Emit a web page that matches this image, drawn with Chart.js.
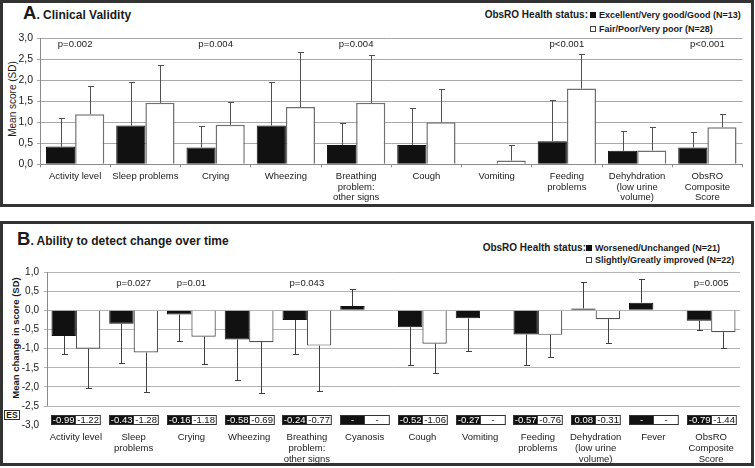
<!DOCTYPE html>
<html><head><meta charset="utf-8">
<script src="https://cdn.jsdelivr.net/npm/chart.js@4.4.1/dist/chart.umd.min.js"></script>
<style>
html,body{margin:0;padding:0;background:#fff;}
body{width:755px;height:468px;position:relative;overflow:hidden;font-family:"Liberation Sans",Arial,sans-serif;color:#1a1a1a;}
.panel{position:absolute;left:0;width:754px;box-sizing:border-box;border:3px solid #333;}
canvas{position:absolute;left:0;}
.t{position:absolute;white-space:nowrap;font-weight:bold;}
.rot{position:absolute;white-space:nowrap;transform:translate(-50%,-50%) rotate(-90deg);}
.sq{display:inline-block;width:6px;height:6px;margin-right:3px;vertical-align:0px;box-sizing:border-box;}
.sqb{background:#111;border:1px solid #111;}
.sqw{background:#fff;border:1px solid #444;}
</style></head>
<body>
<div class="panel" style="top:0;height:207px;"></div>
<div class="panel" style="top:221px;height:245px;"></div>

<div class="t" style="left:23px;top:4px;line-height:18px;"><span style="font-size:18.5px;">A</span><span style="font-size:12px;">. Clinical Validity</span></div>
<div class="t" style="left:17px;top:230px;line-height:18px;"><span style="font-size:18.5px;">B</span><span style="font-size:12px;">. Ability to detect change over time</span></div>

<div class="t" id="legA1" style="right:167px;top:8px;font-size:10px;line-height:14px;">ObsRO Health status:</div>
<div class="t" id="legA" style="left:590px;top:8px;font-size:9px;line-height:14px;"></div>
<div class="t" id="legB1" style="right:169px;top:241.5px;font-size:10px;line-height:12.4px;">ObsRO Health status:</div>
<div class="t" id="legB" style="left:586px;top:241.5px;font-size:9px;line-height:12.4px;"></div>

<div class="rot" style="left:11.5px;top:98.5px;font-size:10px;">Mean score (SD)</div>
<div class="rot" style="left:15px;top:337.5px;font-size:9.5px;font-weight:bold;">Mean change in score (SD)</div>

<div class="t" style="left:4px;top:410px;width:16px;height:10px;box-sizing:border-box;border:1px solid #333;background:#fff;font-size:8.5px;line-height:8px;text-align:center;">ES</div>

<canvas id="cA" width="755" height="207" style="top:0;"></canvas>
<canvas id="cB" width="755" height="245" style="top:221px;"></canvas>

<script>
// ---------- Panel A data ----------
const categoriesA = ['Activity level','Sleep problems','Crying','Wheezing',['Breathing','problem:','other signs'],'Cough','Vomiting',['Feeding','problems'],['Dehyhdration','(low urine','volume)'],['ObsRO','Composite','Score']];
const seriesNamesA = ['Excellent/Very good/Good (N=13)','Fair/Poor/Very poor (N=28)'];
const goodMeanA = [0.42,0.92,0.40,0.92,0.46,0.46,null,0.55,0.32,0.40];
const goodSdA   = [0.67,1.04,0.50,1.04,0.52,0.88,null,0.97,0.47,0.36];
const poorMeanA = [1.19,1.46,0.94,1.36,1.46,1.00,0.09,1.80,0.33,0.88];
const poorSdA   = [0.68,0.90,0.53,1.31,1.14,0.78,0.36,0.82,0.55,0.31];
const pValuesA  = ['p=0.002','','p=0.004','','p=0.004','','','p<0.001','','p<0.001'];
const yTicksA   = {min:0, max:3, step:0.5};

// ---------- Panel B data ----------
const categoriesB = ['Activity level',['Sleep','problems'],'Crying','Wheezing',['Breathing','problem:','other signs'],'Cyanosis','Cough','Vomiting',['Feeding','problems'],['Dehydration','(low urine','volume)'],'Fever',['ObsRO','Composite','Score']];
const seriesNamesB = ['Worsened/Unchanged (N=21)','Slightly/Greatly improved (N=22)'];
const worseMeanB  = [-0.67,-0.35,-0.11,-0.76,-0.25,0.11,-0.44,-0.21,-0.63,0.05,0.20,-0.27];
const worseSdB    = [0.48,1.02,0.69,1.05,0.89,0.44,0.98,0.86,0.80,0.68,0.61,0.24];
const betterMeanB = [-1.00,-1.10,-0.69,-0.83,-0.92,null,-0.87,null,-0.64,-0.23,null,-0.57];
const betterSdB   = [1.03,1.03,0.72,1.34,1.19,null,0.77,null,0.59,0.61,null,0.40];
const pValuesB    = ['','p=0.027','p=0.01','','p=0.043','','','','','','','p=0.005'];
const esWorseB    = ['-0.99','-0.43','-0.16','-0.58','-0.24','-','-0.52','-0.27','-0.57','0.08','-','-0.79'];
const esBetterB   = ['-1.22','-1.28','-1.18','-0.69','-0.77','-','-1.06','-','-0.76','-0.31','-','-1.44'];
const yTicksB     = {min:-3, max:1, step:0.5};

const FONT = '"Liberation Sans", Arial, sans-serif';
const fmt = v => v.toFixed(1).replace('.', ',');

// legends (HTML)
document.getElementById('legA').innerHTML =
  '<div><span class="sq sqb"></span>' + seriesNamesA[0] + '</div><div><span class="sq sqw"></span>' + seriesNamesA[1] + '</div>';
document.getElementById('legB').innerHTML =
  '<div><span class="sq sqb"></span>' + seriesNamesB[0] + '</div><div><span class="sq sqw"></span>' + seriesNamesB[1] + '</div>';

// ---------- plugins ----------
const errorBars = {
  id: 'errorBars',
  afterDatasetsDraw(chart, args, opts) {
    const ctx = chart.ctx, y = chart.scales.y;
    chart.data.datasets.forEach((ds, di) => {
      const meta = chart.getDatasetMeta(di);
      meta.data.forEach((bar, i) => {
        const m = ds.data[i], sd = ds.errors[i];
        if (m == null || sd == null) return;
        const end = m >= 0 ? m + sd : m - sd;
        const x = Math.round(bar.x) + 0.5;
        const y0 = y.getPixelForValue(m), yE = Math.round(y.getPixelForValue(end)) + 0.5;
        ctx.save();
        ctx.strokeStyle = opts.color; ctx.lineWidth = 1;
        ctx.beginPath();
        ctx.moveTo(x, y0); ctx.lineTo(x, yE);
        ctx.moveTo(x - opts.cap, yE); ctx.lineTo(x + opts.cap + 1, yE);
        ctx.stroke();
        ctx.restore();
      });
    });
  }
};

const textLabels = {
  id: 'textLabels',
  afterDatasetsDraw(chart, args, opts) {
    const {ctx, scales: {x, y}} = chart;
    ctx.save();
    ctx.font = opts.font; ctx.fillStyle = '#1a1a1a';
    ctx.textAlign = 'center'; ctx.textBaseline = 'middle';
    opts.texts.forEach((t, i) => { if (t) ctx.fillText(t, x.getPixelForValue(i), y.getPixelForValue(opts.at)); });
    ctx.restore();
  }
};

const esBoxes = {
  id: 'esBoxes',
  afterDatasetsDraw(chart, args, opts) {
    if (!opts.left) return;
    const {ctx, scales: {y}} = chart;
    const m0 = chart.getDatasetMeta(0);
    const yc = y.getPixelForValue(opts.at);
    const h = opts.height;
    ctx.save();
    ctx.font = opts.font; ctx.textAlign = 'center'; ctx.textBaseline = 'middle';
    m0.data.forEach((bar, i) => {
      const w = bar.width;
      const x0 = Math.round(bar.x - w / 2) + 0.5, top = Math.round(yc - h / 2) + 0.5;
      ctx.fillStyle = '#111'; ctx.fillRect(x0, top, w, h);
      ctx.fillStyle = '#fff'; ctx.fillRect(x0 + w, top, w, h);
      ctx.strokeStyle = '#333'; ctx.lineWidth = 1; ctx.strokeRect(x0, top, 2 * w, h);
      ctx.fillStyle = '#fff'; ctx.fillText(opts.left[i], x0 + w / 2, yc + 0.5);
      ctx.fillStyle = '#111'; ctx.fillText(opts.right[i], x0 + w * 1.5, yc + 0.5);
    });
    ctx.restore();
  }
};

const partialAxis = {
  id: 'partialAxis',
  afterDraw(chart, args, opts) {
    if (opts.from == null) return;
    const {ctx, scales: {y}, chartArea} = chart;
    const x = Math.round(chartArea.left) + 0.5;
    ctx.save(); ctx.strokeStyle = opts.color; ctx.lineWidth = 1;
    ctx.beginPath(); ctx.moveTo(x, y.getPixelForValue(opts.from)); ctx.lineTo(x, y.getPixelForValue(opts.to)); ctx.stroke();
    ctx.restore();
  }
};

// ---------- Chart A ----------
new Chart(document.getElementById('cA'), {
  type: 'bar',
  data: {
    labels: categoriesA,
    datasets: [
      {label: seriesNamesA[0], data: goodMeanA, errors: goodSdA, backgroundColor: '#111', borderColor: '#111', borderWidth: 1, barPercentage: 1, categoryPercentage: 0.83},
      {label: seriesNamesA[1], data: poorMeanA, errors: poorSdA, backgroundColor: '#fff', borderColor: '#707070', borderWidth: 1.5, barPercentage: 1, categoryPercentage: 0.83}
    ]
  },
  options: {
    responsive: false, animation: false, devicePixelRatio: 1,
    layout: {padding: {left: 0, top: 38, right: 12.5, bottom: 0}},
    plugins: {
      legend: {display: false}, tooltip: {enabled: false},
      errorBars: {color: '#505050', cap: 2.5},
      textLabels: {texts: pValuesA, at: 2.84, font: '9.5px ' + FONT},
      esBoxes: {}, partialAxis: {}
    },
    scales: {
      x: {
        grid: {drawOnChartArea: false, drawTicks: true, tickLength: 3, color: '#8a8a8a'},
        border: {color: '#8a8a8a'},
        ticks: {font: {family: FONT, size: 9.5, lineHeight: 1.15}, color: '#1a1a1a', padding: 3.2, maxRotation: 0, autoSkip: false},
        afterFit(s) { s.height = 207 - 164.3; }
      },
      y: {
        min: yTicksA.min, max: yTicksA.max,
        ticks: {stepSize: yTicksA.step, callback: v => fmt(v), font: {family: FONT, size: 10.5}, color: '#1a1a1a', padding: 4},
        grid: {color: '#a8a8a8', tickLength: 3},
        border: {color: '#8a8a8a'},
        afterFit(s) { s.width = 40; }
      }
    }
  },
  plugins: [errorBars, textLabels, esBoxes, partialAxis]
});

// ---------- Chart B ----------
new Chart(document.getElementById('cB'), {
  type: 'bar',
  data: {
    labels: categoriesB,
    datasets: [
      {label: seriesNamesB[0], data: worseMeanB, errors: worseSdB, backgroundColor: '#111', borderColor: '#111', borderWidth: 1, barPercentage: 1, categoryPercentage: 0.845},
      {label: seriesNamesB[1], data: betterMeanB, errors: betterSdB, backgroundColor: '#fff', borderColor: '#505050', borderWidth: 1.2, barPercentage: 1, categoryPercentage: 0.845}
    ]
  },
  options: {
    responsive: false, animation: false, devicePixelRatio: 1,
    layout: {padding: {left: 0, top: 51, right: 15, bottom: 0}},
    plugins: {
      legend: {display: false}, tooltip: {enabled: false},
      errorBars: {color: '#404040', cap: 2.5},
      textLabels: {texts: pValuesB, at: 0.70, font: '9.5px ' + FONT},
      esBoxes: {left: esWorseB, right: esBetterB, at: -2.85, height: 9, font: '9.5px ' + FONT},
      partialAxis: {from: yTicksB.max, to: -2.5, color: '#8a8a8a'}
    },
    scales: {
      x: {
        grid: {display: false, drawTicks: false},
        border: {display: false},
        ticks: {font: {family: FONT, size: 9.5, lineHeight: 1.15}, color: '#1a1a1a', padding: 6.5, maxRotation: 0, autoSkip: false},
        afterFit(s) { s.height = 245 - 204.3; }
      },
      y: {
        min: yTicksB.min, max: yTicksB.max,
        ticks: {stepSize: yTicksB.step, callback: v => fmt(v), font: {family: FONT, size: 10}, color: '#1a1a1a', padding: 5},
        grid: {color: c => (c.tick && c.tick.value === yTicksB.min) ? 'rgba(0,0,0,0)' : '#b4b4b4', tickLength: 3},
        border: {display: false},
        afterFit(s) { s.width = 47; }
      }
    }
  },
  plugins: [errorBars, textLabels, esBoxes, partialAxis]
});
</script>
</body></html>
